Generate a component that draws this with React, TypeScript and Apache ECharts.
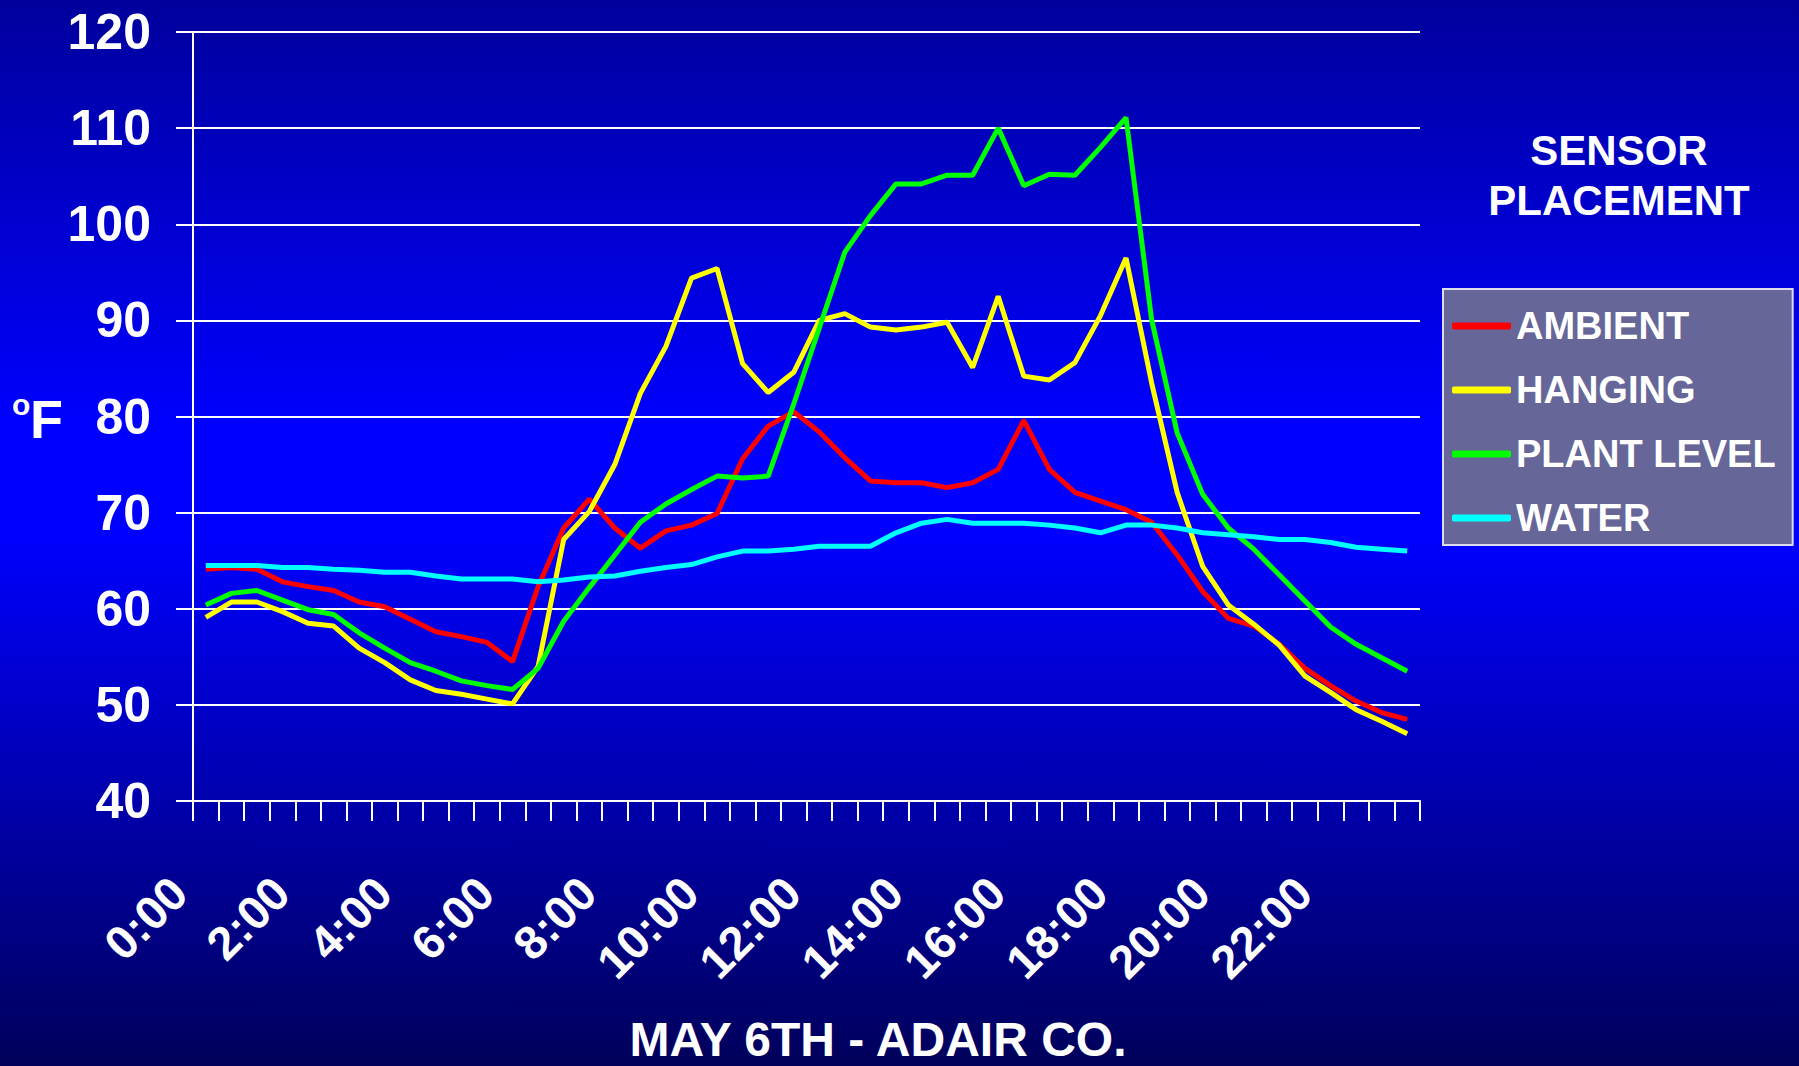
import React, { useEffect, useRef } from "react";
import * as echarts from "echarts";

const categories = [
  "0:00", "0:30", "1:00", "1:30", "2:00", "2:30", "3:00", "3:30",
  "4:00", "4:30", "5:00", "5:30", "6:00", "6:30", "7:00", "7:30",
  "8:00", "8:30", "9:00", "9:30", "10:00", "10:30", "11:00", "11:30",
  "12:00", "12:30", "13:00", "13:30", "14:00", "14:30", "15:00", "15:30",
  "16:00", "16:30", "17:00", "17:30", "18:00", "18:30", "19:00", "19:30",
  "20:00", "20:30", "21:00", "21:30", "22:00", "22:30", "23:00", "23:30",
];

const ambient = [
  64.1, 64.3, 64.1, 62.8, 62.3, 61.9, 60.7, 60.2, 58.9, 57.6, 57.1, 56.5,
  54.5, 62.3, 68.4, 71.4, 68.4, 66.3, 68.1, 68.7, 69.9, 75.6, 79.0, 80.5,
  78.4, 75.7, 73.3, 73.1, 73.1, 72.6, 73.1, 74.5, 79.6, 74.5, 72.1, 71.2,
  70.3, 69.0, 65.6, 61.8, 59.0, 58.2, 56.3, 53.8, 52.0, 50.4, 49.2, 48.5,
];

const hanging = [
  59.1, 60.7, 60.7, 59.7, 58.5, 58.2, 55.9, 54.4, 52.6, 51.5, 51.1, 50.6,
  50.1, 54.0, 67.2, 70.1, 75.0, 82.4, 87.3, 94.4, 95.4, 85.5, 82.5, 84.6,
  90.0, 90.7, 89.3, 89.0, 89.3, 89.8, 85.1, 92.5, 84.2, 83.8, 85.6, 90.5,
  96.5, 83.5, 72.1, 64.4, 60.4, 58.4, 56.2, 53.0, 51.3, 49.5, 48.3, 47.0,
];

const plantLevel = [
  60.4, 61.6, 61.9, 60.9, 59.9, 59.4, 57.5, 55.9, 54.4, 53.5, 52.5, 52.0,
  51.6, 53.8, 58.7, 62.2, 65.6, 69.0, 70.9, 72.4, 73.8, 73.6, 73.8, 81.3,
  89.2, 97.1, 100.9, 104.2, 104.2, 105.1, 105.1, 110.0, 104.0, 105.2, 105.1, 108.0,
  111.1, 90.1, 78.3, 71.9, 68.4, 66.2, 63.5, 60.8, 58.1, 56.3, 54.9, 53.5,
];

const water = [
  64.5, 64.5, 64.5, 64.3, 64.3, 64.1, 64.0, 63.8, 63.8, 63.4, 63.1, 63.1,
  63.1, 62.8, 63.0, 63.3, 63.4, 63.9, 64.3, 64.6, 65.4, 66.0, 66.0, 66.2,
  66.5, 66.5, 66.5, 67.9, 68.9, 69.3, 68.9, 68.9, 68.9, 68.7, 68.4, 67.9,
  68.7, 68.7, 68.4, 67.9, 67.7, 67.5, 67.2, 67.2, 66.9, 66.4, 66.2, 66.0,
];

const seriesNames = ["AMBIENT", "HANGING", "PLANT LEVEL", "WATER"];
const seriesColors = ["#ff0000", "#ffff00", "#00ff00", "#00ffff"];
const seriesData = [ambient, hanging, plantLevel, water];

const yMin = 40;
const yMax = 120;
const yStep = 10;

const legendTitle = "SENSOR\nPLACEMENT";
const chartTitle = "MAY 6TH - ADAIR CO.";

const NARROW = "'Liberation Sans Narrow', 'Arial Narrow', 'Liberation Sans', sans-serif";
const SANS = "'Liberation Sans', Arial, sans-serif";

export default function App() {
  const ref = useRef<HTMLDivElement>(null);

  useEffect(() => {
    if (!ref.current) return;
    const chart = echarts.init(ref.current, null, { renderer: "svg" });
    const option: any = {
      animation: false,
      backgroundColor: {
        type: "linear",
        x: 0,
        y: 0,
        x2: 0,
        y2: 1,
        colorStops: [
          { offset: 0, color: "#00009c" },
          { offset: 0.4, color: "#0000ff" },
          { offset: 0.5, color: "#0000ff" },
          { offset: 1, color: "#00005a" },
        ],
      },
      title: [
        {
          text: legendTitle,
          left: 1619,
          top: 125,
          textAlign: "center",
          padding: 0,
          textStyle: {
            color: "#ffffff",
            fontSize: 42,
            fontWeight: "bold",
            fontFamily: SANS,
            lineHeight: 50,
          },
        },
        {
          text: chartTitle,
          left: 878,
          top: 1016,
          textAlign: "center",
          padding: 0,
          textStyle: {
            color: "#ffffff",
            fontSize: 48,
            fontWeight: "bold",
            fontFamily: SANS,
            lineHeight: 46,
          },
        },
      ],
      legend: {
        orient: "vertical",
        left: 1443,
        top: 289,
        backgroundColor: "#666699",
        borderColor: "#dcdcec",
        borderWidth: 2,
        padding: [14, 17, 4, 9],
        itemGap: 18,
        itemWidth: 59,
        itemHeight: 7,
        icon: "roundRect",
        selectedMode: false,
        textStyle: {
          color: "#ffffff",
          fontSize: 38,
          fontWeight: "bold",
          fontFamily: SANS,
          lineHeight: 46,
        },
        data: seriesNames,
      },
      grid: { left: 193, right: 379, top: 32, bottom: 265, containLabel: false },
      xAxis: {
        type: "category",
        data: categories,
        boundaryGap: true,
        axisLine: { lineStyle: { color: "#ffffff", width: 2 } },
        axisTick: { show: true, interval: 0, length: 20, lineStyle: { color: "#ffffff", width: 2 } },
        axisLabel: {
          interval: 3,
          rotate: 45,
          color: "#ffffff",
          fontSize: 47,
          fontWeight: "bold",
          fontFamily: SANS,
          margin: 57,
          padding: [0, 38, 0, 0],
        },
        splitLine: { show: false },
      },
      yAxis: {
        type: "value",
        min: yMin,
        max: yMax,
        interval: yStep,
        axisLine: { show: true, lineStyle: { color: "#ffffff", width: 2 } },
        axisTick: { show: true, length: 17, lineStyle: { color: "#ffffff", width: 2 } },
        axisLabel: {
          color: "#ffffff",
          fontSize: 50,
          fontWeight: "bold",
          fontFamily: NARROW,
          margin: 42,
        },
        splitLine: { show: true, lineStyle: { color: "#ffffff", width: 2 } },
      },
      graphic: [
        {
          type: "text",
          x: 12,
          y: 404,
          style: {
            text: "o",
            fill: "#ffffff",
            font: "bold 30px " + NARROW,
            align: "left",
            verticalAlign: "middle",
          },
        },
        {
          type: "text",
          x: 30,
          y: 419,
          style: {
            text: "F",
            fill: "#ffffff",
            font: "bold 54px " + NARROW,
            align: "left",
            verticalAlign: "middle",
          },
        },
      ],
      series: seriesNames.map((name, i) => ({
        name,
        type: "line",
        data: seriesData[i],
        symbol: "none",
        smooth: false,
        color: seriesColors[i],
        lineStyle: { color: seriesColors[i], width: 5 },
      })),
    };
    chart.setOption(option);
    return () => chart.dispose();
  }, []);

  return (
    <div
      ref={ref}
      style={{ position: "absolute", left: 0, top: 0, width: 1799, height: 1066 }}
    />
  );
}
